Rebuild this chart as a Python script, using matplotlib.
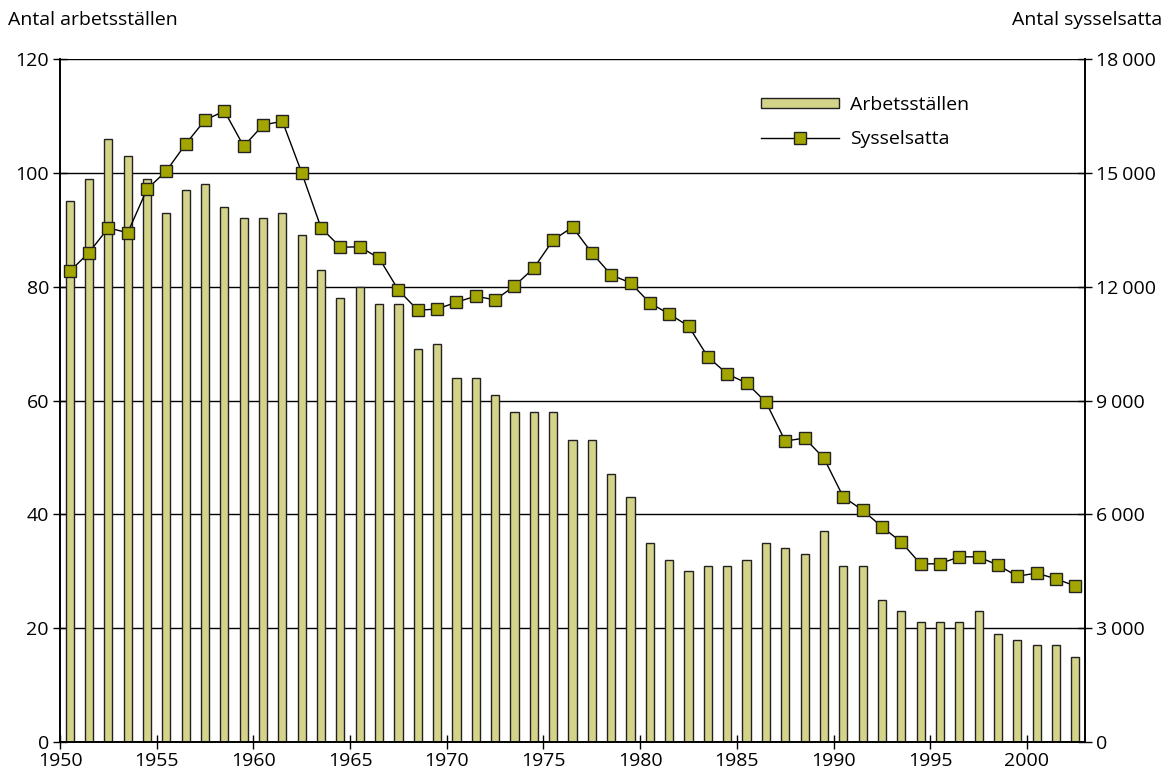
import matplotlib
matplotlib.use("Agg")
import matplotlib.pyplot as plt
import numpy as np

plt.rcParams['font.family'] = ['Open Sans', 'DejaVu Sans']
plt.rcParams['font.size'] = 14

# Data
years = list(range(1950, 2003))
arbetsstallen = [95, 99, 106, 103, 99, 93, 97, 98, 94, 92,
                 92, 93, 89, 83, 78, 80, 77, 77, 69, 70,
                 64, 64, 61, 58, 58, 58, 53, 53, 47, 43,
                 35, 32, 30, 31, 31, 32, 35, 34, 33, 37,
                 31, 31, 25, 23, 21, 21, 21, 23, 19, 18,
                 17, 17, 15]
sysselsatta = [12400, 12900, 13550, 13420, 14570, 15050, 15760, 16390, 16630, 15700,
               16260, 16360, 15000, 13550, 13040, 13050, 12750, 11910, 11380, 11410,
               11590, 11750, 11650, 12020, 12490, 13230, 13570, 12890, 12310, 12100,
               11570, 11280, 10960, 10150, 9700, 9460, 8960, 7930, 8010, 7480,
               6460, 6110, 5670, 5270, 4690, 4700, 4880, 4880, 4660, 4370,
               4450, 4300, 4110]
xtick_years = [1950, 1955, 1960, 1965, 1970, 1975, 1980, 1985, 1990, 1995, 2000]
left_ticks = [0, 20, 40, 60, 80, 100, 120]
right_ticks = [0, 3000, 6000, 9000, 12000, 15000, 18000]

bar_color = '#d3d38a'
marker_color = '#a3a600'

fig = plt.figure(figsize=(11.67, 7.81), dpi=100)
ax = fig.add_axes([60/1167, 1-742/781, (1085-60)/1167, (742-59)/781])
ax2 = ax.twinx()

x = np.array(years) + 0.5
bars = ax.bar(x, arbetsstallen, width=0.42, color=bar_color,
              edgecolor='#222222', linewidth=1.0, label='Arbetsställen', zorder=2)
line, = ax2.plot(x, sysselsatta, color='black', linewidth=1.0, marker='s',
                 markersize=8.5, markerfacecolor=marker_color,
                 markeredgecolor='#222222', markeredgewidth=1.0, label='Sysselsatta')

ax.set_xlim(1950, 2003)
ax.set_ylim(0, 120)
ax2.set_ylim(0, 18000)

ax.set_xticks(xtick_years)
ax.set_yticks(left_ticks)
ax2.set_yticks(right_ticks)
ax2.set_yticklabels([f"{v:,}".replace(",", "\u202f") if v else "0" for v in right_ticks])

ax.set_axisbelow(True)
ax.yaxis.grid(True, color='black', linewidth=1.0)
ax.tick_params(axis='x', direction='inout', length=10, width=1, labelsize=14, pad=2)
ax.tick_params(axis='y', direction='inout', length=10, width=1, labelsize=14, pad=3)
ax2.tick_params(axis='y', direction='inout', length=10, width=1, labelsize=14, pad=3)

for a in (ax, ax2):
    a.spines['top'].set_visible(False)
    a.spines['left'].set_linewidth(1.2)
    a.spines['right'].set_linewidth(1.2)
    a.spines['bottom'].set_linewidth(1.2)

fig.text(8/1167, 1-20/781, 'Antal arbetsställen', fontsize=14, va='center', ha='left')
fig.text(1162/1167, 1-20/781, 'Antal sysselsatta', fontsize=14, va='center', ha='right')

ax2.legend([bars, line], ['Arbetsställen', 'Sysselsatta'], frameon=False,
           loc='upper left', bbox_to_anchor=(751/1167, 1-86/781),
           bbox_transform=fig.transFigure, borderpad=0, handlelength=4.0,
           handleheight=0.45, handletextpad=0.6, labelspacing=0.85, fontsize=14)

fig.savefig('out.png', dpi=100)
